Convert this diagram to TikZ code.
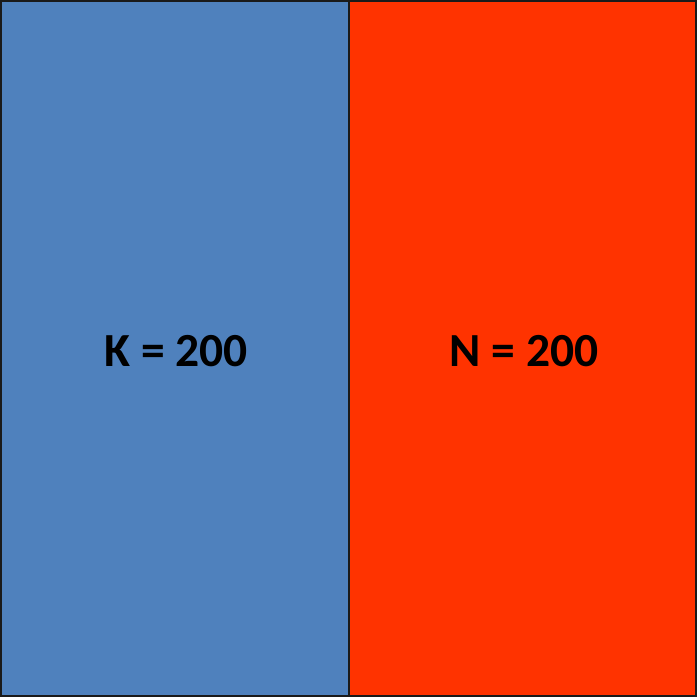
\documentclass[tikz,border=0pt]{standalone}
\usepackage{fontspec}
\setmainfont{Carlito}
\definecolor{kblue}{HTML}{4F81BD}
\definecolor{nred}{HTML}{FF3300}
\definecolor{edge}{HTML}{1A1A1A}
\begin{document}
\begin{tikzpicture}[x=1pt,y=-1pt,
  panel/.style={draw=edge,line width=2pt},
  lbl/.style={font=\fontsize{47.5}{50}\selectfont\bfseries,text=black,inner sep=0pt}]
\useasboundingbox (0,0) rectangle (697,697);
\fill[panel,fill=kblue] (1,1) rectangle (349,696);
\fill[panel,fill=nred] (349,1) rectangle (696,696);
\draw[panel] (1,1) rectangle (696,696);
\node[lbl] (k) at (176,351) {K = 200};
\node[lbl] (n) at (524,351) {N = 200};
\end{tikzpicture}
\end{document}
